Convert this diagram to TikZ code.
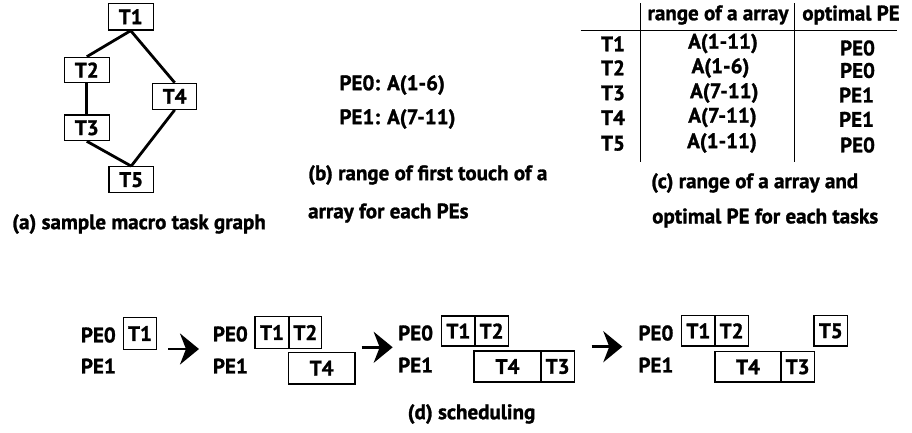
\documentclass[tikz,border=0pt]{standalone}
\usepackage{fontspec}
\setmainfont{PT Sans}[BoldFont={PT Sans Bold},BoldFeatures={FakeBold=1.3}]
\usetikzlibrary{arrows.meta}
\begin{document}
\begin{tikzpicture}[x=1pt,y=-1pt,
  every node/.style={font=\fontsize{21}{24}\selectfont\bfseries, inner sep=0pt},
  tbox/.style={draw, line width=1.2pt},
  gedge/.style={line width=2.8pt},
  bigarrow/.style={line width=2.8pt, -{Stealth[length=19pt,width=31pt,inset=6pt]}},
  rule/.style={line width=0.9pt},
  lbl/.style={anchor=west}]
\useasboundingbox (0,0) rectangle (912,432);
% (a) task graph
\node[tbox, minimum width=45pt, minimum height=26.7pt] (a1) at (130.7,16.7) {T1};
\node[tbox, minimum width=45pt, minimum height=25.4pt] (a2) at (86.8,70) {T2};
\node[tbox, minimum width=44pt, minimum height=26pt] (a4) at (174.7,96.3) {T4};
\node[tbox, minimum width=45pt, minimum height=25.7pt] (a3) at (86.8,127.8) {T3};
\node[tbox, minimum width=44.3pt, minimum height=26pt] (a5) at (131.2,179.7) {T5};
\draw[gedge] (a1.south) -- (a2.north);
\draw[gedge] (a1.south) -- (a4.north);
\draw[gedge] (a2.south) -- (a3.north);
\draw[gedge] (a3.south) -- (a5.north);
\draw[gedge] (a4.south) -- (a5.north);
\node (capa) at (139,224) {(a) sample macro task graph};
% (b)
\node[lbl] (b0) at (339.3,85) {PE0: A(1-6)};
\node[lbl] (b1) at (339.3,119) {PE1: A(7-11)};
\node[lbl] (capb1) at (308,175) {(b) range of first touch of a};
\node[lbl] (capb2) at (308,213) {array for each PEs};
% (c) table
\coordinate (v1t) at (640,3); \coordinate (v1b) at (640,162);
\coordinate (v2t) at (794.3,3); \coordinate (v2b) at (794.3,162);
\coordinate (hl) at (580.7,30); \coordinate (hr) at (896.7,30);
\draw[rule] (v1t) -- (v1b);
\draw[rule] (v2t) -- (v2b);
\draw[rule] (hl) -- (hr);
\node (h1) at (718,15) {range of a array};
\node (h2) at (851,15) {optimal PE};
\node (r1) at (613,43.8) {T1};
\node (r2) at (613,67.8) {T2};
\node (r3) at (613,93) {T3};
\node (r4) at (613,117.7) {T4};
\node (r5) at (613,143.3) {T5};
\node (c1) at (723,43.5) {A(1-11)};
\node (c2) at (720.5,68) {A(1-6)};
\node (c3) at (724.3,93) {A(7-11)};
\node (c4) at (722.5,117.5) {A(7-11)};
\node (c5) at (722,143) {A(1-11)};
\node (p1) at (857.5,48) {PE0};
\node (p2) at (857.5,70.5) {PE0};
\node (p3) at (856.5,95) {PE1};
\node (p4) at (856.5,119.3) {PE1};
\node (p5) at (857.5,145) {PE0};
\node[lbl] (capc1) at (651,183) {(c) range of a array and};
\node[lbl] (capc2) at (652,218) {optimal PE for each tasks};
% (d) scheduling
% group 1
\node[lbl] (g1p0) at (80.7,335) {PE0};
\node[lbl] (g1p1) at (80.7,366) {PE1};
\node[tbox, minimum width=33.4pt, minimum height=31.6pt] (g1t1) at (140,333.5) {T1};
% arrow 1
\coordinate (ar1s) at (168,349); \coordinate (ar1e) at (199,349);
\draw[bigarrow] (ar1s) -- (ar1e);
% group 2
\node[lbl] (g2p0) at (212.7,334) {PE0};
\node[lbl] (g2p1) at (212.7,366) {PE1};
\node[tbox, minimum width=34pt, minimum height=31.6pt] (g2t1) at (272,332.5) {T1};
\node[tbox, minimum width=32.7pt, minimum height=31.6pt] (g2t2) at (305.35,332.5) {T2};
\node[tbox, minimum width=66.7pt, minimum height=31.7pt] (g2t4) at (321.65,368.15) {T4};
% arrow 2
\coordinate (ar2s) at (361.7,347.3); \coordinate (ar2e) at (392.7,347.3);
\draw[bigarrow] (ar2s) -- (ar2e);
% group 3
\node[lbl] (g3p0) at (398,333) {PE0};
\node[lbl] (g3p1) at (398,365) {PE1};
\node[tbox, minimum width=33.3pt, minimum height=30pt] (g3t1) at (458.35,331) {T1};
\node[tbox, minimum width=33.3pt, minimum height=30pt] (g3t2) at (491.65,331) {T2};
\node[tbox, minimum width=67pt, minimum height=31pt] (g3t4) at (507.5,366.5) {T4};
\node[tbox, minimum width=33.3pt, minimum height=31pt] (g3t3) at (557.65,366.5) {T3};
% arrow 3
\coordinate (ar3s) at (591.7,346.7); \coordinate (ar3e) at (622.3,346.7);
\draw[bigarrow] (ar3s) -- (ar3e);
% group 4
\node[lbl] (g4p0) at (638.3,333) {PE0};
\node[lbl] (g4p1) at (638.3,365) {PE1};
\node[tbox, minimum width=33.3pt, minimum height=30.3pt] (g4t1) at (698.35,330.85) {T1};
\node[tbox, minimum width=33.3pt, minimum height=30.3pt] (g4t2) at (731.65,330.85) {T2};
\node[tbox, minimum width=33.7pt, minimum height=30.3pt] (g4t5) at (830.85,330.85) {T5};
\node[tbox, minimum width=66pt, minimum height=30.3pt] (g4t4) at (748,366.85) {T4};
\node[tbox, minimum width=33.3pt, minimum height=30.3pt] (g4t3) at (797.65,366.85) {T3};
\node (capd) at (471.5,414) {(d) scheduling};
\end{tikzpicture}
\end{document}
